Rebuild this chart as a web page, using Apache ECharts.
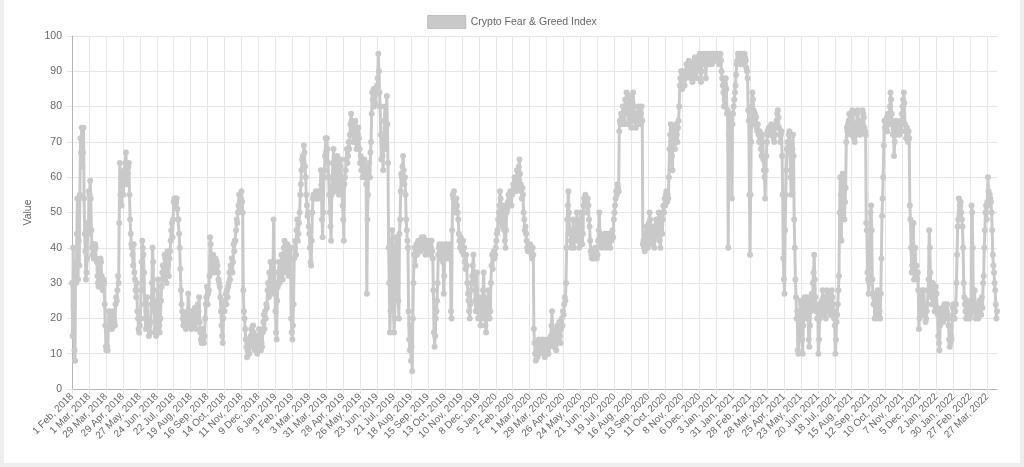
<!DOCTYPE html>
<html>
<head>
<meta charset="utf-8">
<script src="https://cdn.jsdelivr.net/npm/echarts@6/dist/echarts.min.js"></script>
<style>
html,body{margin:0;padding:0;background:#fff;}
#frame{position:absolute;left:0;top:-4px;width:1024px;height:471px;border:4px solid #eeeeee;border-top:none;box-sizing:border-box;}
#chart{position:absolute;left:0;top:0;width:1024px;height:467px;}
</style>
</head>
<body>
<div id="frame"></div>
<div id="chart"></div>
<script>
// ---- data (daily Crypto Fear & Greed Index values) ----
const seriesName = 'Crypto Fear & Greed Index';
const yAxisName = 'Value';
const startDate = '2018-02-01';
const missingDates = ['2018-04-14','2018-04-15','2018-04-16'];
const monthNames = ['Jan','Feb','Mar','Apr','May','Jun','Jul','Aug','Sep','Oct','Nov','Dec'];

const feb18 = [30,15,40,24,11,8,36,30,44,54,31,42,35,55,71,67,74,63,67,74,54,44,39,31,33,37,47,44];
const mar18 = [56,55,59,54,45,40,38,41,37,39,41,40,37,36,32,30,29,31,33,37,36,32,30,28,31,30,24,18,12,11,12];
const apr18 = [11,17,22,18,20,21,19,17,18,22,20,19,18,24,26,25,28,32,30,47,64,55,60,52,58,61,55];
const may18 = [62,60,64,67,63,58,61,63,64,55,48,44,41,40,38,35,41,33,31,28,26,30,22,20,17,16,18,20,28,36,42];
const jun18 = [40,38,33,24,20,17,22,26,20,17,15,18,16,19,24,30,40,36,28,22,16,17,15,19,25,31,24,18,16,20];
const jul18 = [25,29,33,35,31,34,38,37,33,30,36,39,35,32,37,39,42,45,47,43,48,53,54,52,54,53,54,51,48,48,44];
const aug18 = [40,34,28,24,22,20,18,19,21,18,17,20,19,22,27,22,19,18,20,17,19,22,21,18,20,23,19,17,20,21,24];
const sep18 = [22,26,19,16,14,13,15,17,14,13,15,20,24,26,29,24,27,28,32,43,41,37,33,35,38,36,33,34,37,36];
const oct18 = [36,35,33,31,30,29,26,22,18,15,13,20,24,22,25,27,24,28,26,29,30,33,31,35,34,37,33,36,41,39,42];
const nov18 = [42,45,48,47,50,52,55,53,51,54,56,53,50,28,22,20,17,14,12,9,11,14,12,10,13,15,17,12,14,18];
const dec18 = [16,13,11,12,15,14,10,13,12,17,15,14,11,13,12,16,19,21,17,22,20,24,23,28,30,26,33,29,36,31,27];
const jan19 = [28,33,48,36,30,22,16,14,25,29,33,36,30,32,35,38,33,31,36,40,42,38,35,33,39,41,36,32,34,37,40];
const feb19 = [20,16,14,18,24,37,40,42,38,45,48,42,44,47,50,55,58,62,65,66,64,69,67,63,60,55,52,49];
const mar19 = [50,46,44,40,36,35,42,50,54,55,55,54,55,56,55,54,55,54,56,55,56,62,58,48,43,50,60,62,66,71,67];
const apr19 = [71,68,64,60,55,50,46,42,55,60,64,68,62,58,56,60,64,66,62,58,55,60,63,65,60,56,52,48,42,58];
const may19 = [60,62,65,68,64,66,70,68,72,75,78,76,74,72,70,73,75,76,72,68,70,72,74,71,68,64,66,62,65,60,63];
const jun19 = [62,65,60,63,58,27,48,55,62,64,60,67,70,78,84,82,85,80,83,81,85,84,86,88,95,90,84,80,72,65];
const jul19 = [72,66,62,70,76,80,74,68,83,75,64,40,30,16,22,35,42,45,38,24,16,20,30,40,43,38,30,25,20,44,48];
const aug19 = [56,61,60,63,66,62,58,60,55,48,45,42,40,22,14,11,18,8,12,5,20,30,38,40,35,40,41,38,40,42,39];
const sep19 = [40,41,39,42,43,41,40,43,42,40,38,41,42,39,40,42,41,39,38,40,42,39,37,28,16,12,15,20,22,25];
const oct19 = [30,38,40,41,37,39,40,38,41,36,27,32,38,40,41,39,40,37,38,41,40,38,22,20,45,55,54,56,52,53,50];
const nov19 = [54,52,50,48,44,42,40,43,41,39,40,42,38,40,36,34,38,35,30,27,25,22,20,24,28,30,32,35,38,33];
const dec19 = [30,25,22,28,33,24,20,22,26,21,18,23,20,25,28,33,26,22,18,16,20,22,25,28,24,20,22,30,35,38,34];
const jan20 = [38,39,37,38,40,42,44,45,48,50,52,56,54,50,47,46,48,52,45,42,40,45,50,51,53,55,52,54,56,55,52];
const feb20 = [55,56,58,57,60,59,56,58,62,57,60,63,65,61,58,56,54,57,55,50,48,45,46,44,42,40,39,41,40];
const mar20 = [40,41,39,38,37,40,38,17,13,10,8,10,11,9,12,14,10,11,12,11,13,14,12,11,10,9,11,13,14,12,11];
const apr20 = [10,12,14,13,15,18,22,16,14,12,15,17,14,11,13,18,14,16,19,15,13,17,20,18,22,21,24,26,25,30];
const may20 = [40,48,52,56,50,45,44,42,40,41,44,48,40,43,45,42,44,50,47,45,42,40,44,48,50,46,41,44,52,54,53];
const jun20 = [55,52,53,50,54,52,48,46,42,39,38,37,38,39,37,38,40,38,39,37,38,42,45,50,44,41,42,40,42,41];
const jul20 = [41,43,44,42,40,42,41,43,44,41,42,40,43,42,44,45,43,48,50,52,54,56,55,58,57,56,73,76,75,78,77];
const aug20 = [78,80,76,75,79,82,80,84,82,78,75,80,83,79,76,74,77,81,84,80,78,76,74,77,75,78,76,80,79,77,75];
const sep20 = [78,80,76,41,42,40,39,41,44,46,42,40,44,47,50,48,45,43,41,44,46,42,40,43,45,48,47,44,46,50];
const oct20 = [45,42,40,46,50,44,48,52,50,54,52,55,56,53,55,54,60,68,72,75,70,66,62,72,74,70,68,73,75,72,70];
const nov20 = [74,76,80,86,88,90,88,85,87,90,89,86,88,90,92,90,89,91,93,92,90,88,91,89,87,90,92,93,94,92];
const dec20 = [90,88,91,93,94,92,95,93,87,90,92,93,94,95,93,94,88,92,93,95,94,92,93,95,94,93,92,94,95,93,95];
const jan21 = [94,95,93,95,94,93,95,92,94,95,93,90,88,86,84,80,82,86,88,85,78,79,40,72,76,78,74,76,54,75,78];
const feb21 = [80,82,84,86,89,92,93,95,94,95,93,95,94,92,95,94,93,92,95,94,93,91,90,88,79,76,55,38];
const mar21 = [55,70,80,84,82,79,76,78,75,77,74,73,75,72,70,73,71,68,66,70,72,65,62,60,54,62,66,70,73,72,74];
const apr21 = [72,74,73,75,74,72,73,71,70,72,74,75,76,78,79,77,74,72,70,72,73,66,55,37,31,27,45,55,62,68];
const may21 = [70,68,72,73,67,60,55,62,68,72,66,48,40,31,26,20,22,11,10,14,21,25,20,24,14,10,18,22,26,24,20];
const jun21 = [22,26,24,20,14,12,18,22,25,27,23,30,33,38,31,26,22,24,20,22,10,14,20,24,22,21,25,28,26,22];
const jul21 = [24,22,20,26,28,24,22,25,27,23,21,25,28,26,24,22,20,18,10,14,19,21,24,28,32,50,60,55,42,60,61];
const aug21 = [55,60,48,53,57,70,74,73,75,76,78,74,72,75,76,79,78,74,71,70,72,73,75,78,79,76,73,74,72,73,75];
const sep21 = [76,79,78,77,74,73,72,47,45,33,31,27,30,38,50,52,45,31,27,24,26,20,25,22,27,20,28,23,21,22];
const oct21 = [20,27,37,49,54,60,69,76,74,73,75,77,73,78,76,75,80,84,82,78,75,72,74,66,70,74,76,72,75,73,74];
const nov21 = [75,72,74,76,73,78,80,82,84,81,75,73,71,74,72,70,73,71,52,48,40,33,35,40,47,31,34,40,33,35];
const dec21 = [31,33,28,17,20,26,24,26,28,22,21,28,24,22,19,20,22,24,28,31,45,40,33,27,26,24,30,28,26,22,24];
const jan22 = [29,27,23,21,15,13,11,18,22,21,22,23,19,22,24,21,20,23,22,24,21,18,14,12,13,15,14,20,23,24,20];
const feb22 = [20,22,24,30,38,46,48,54,49,52,53,50,48,46,40,30,26,24,22,20,23,25,20,22,24,20,21,23];
const mar22 = [52,50,40,24,22,28,22,20,21,24,22,20,21,25,22,24,21,26,23,30,32,40,45,50,52,48,53,60,56,52,55];
const apr22 = [54,53,50,45,38,35,33,30,28,24,20,22];

const months = [feb18,mar18,apr18,may18,jun18,jul18,aug18,sep18,oct18,nov18,dec18,
  jan19,feb19,mar19,apr19,may19,jun19,jul19,aug19,sep19,oct19,nov19,dec19,
  jan20,feb20,mar20,apr20,may20,jun20,jul20,aug20,sep20,oct20,nov20,dec20,
  jan21,feb21,mar21,apr21,may21,jun21,jul21,aug21,sep21,oct21,nov21,dec21,
  jan22,feb22,mar22,apr22];
const values = [].concat(...months);

// category labels: one per day from the start date (with the missing days skipped)
const categories = [];
{
  const d = new Date(startDate + 'T00:00:00Z');
  while (categories.length < values.length) {
    const iso = d.toISOString().slice(0, 10);
    if (!missingDates.includes(iso)) {
      categories.push(d.getUTCDate() + ' ' + monthNames[d.getUTCMonth()] + ', ' + d.getUTCFullYear());
    }
    d.setUTCDate(d.getUTCDate() + 1);
  }
}

const FONT = 'Liberation Sans, Arial, Helvetica, sans-serif';
const GREY = '#c9c9c9';
const chart = echarts.init(document.getElementById('chart'), null, {renderer: 'canvas'});
chart.setOption({
  animation: false,
  textStyle: {fontFamily: FONT},
  legend: {
    top: 10, left: 'center',
    icon: 'rect', itemWidth: 38, itemHeight: 13, itemGap: 10,
    textStyle: {color: '#666', fontSize: 10.5, fontFamily: FONT},
    data: [{name: seriesName, itemStyle: {color: GREY, borderColor: '#bdbdbd', borderWidth: 1}}]
  },
  grid: {left: 72, right: 27, top: 36, bottom: 78, containLabel: false},
  xAxis: {
    type: 'category', data: categories, boundaryGap: false,
    axisLine: {lineStyle: {color: '#b5b5b5', width: 1}},
    axisTick: {show: true, interval: 27, length: 5, lineStyle: {color: '#e3e3e3'}},
    axisLabel: {interval: 27, rotate: 45, color: '#666', fontSize: 10, fontFamily: FONT, margin: 6},
    splitLine: {show: true, interval: 27, lineStyle: {color: '#e6e6e6', width: 1}}
  },
  yAxis: {
    type: 'value', min: 0, max: 100, interval: 10,
    name: yAxisName, nameLocation: 'middle', nameGap: 33, nameRotate: 90,
    nameTextStyle: {color: '#666', fontSize: 10.5, fontFamily: FONT},
    axisLine: {show: true, lineStyle: {color: '#b5b5b5', width: 1}},
    axisTick: {show: true, length: 5, lineStyle: {color: '#e3e3e3'}},
    axisLabel: {color: '#666', fontSize: 10.5, fontFamily: FONT, margin: 10},
    splitLine: {show: true, lineStyle: {color: '#e6e6e6', width: 1}}
  },
  series: [{
    name: seriesName, type: 'line', data: values,
    showSymbol: true, showAllSymbol: true, symbol: 'circle', symbolSize: 6,
    lineStyle: {color: GREY, width: 3},
    itemStyle: {color: GREY, borderColor: GREY, borderWidth: 0},
    emphasis: {disabled: true}
  }]
});
</script>
</body>
</html>
